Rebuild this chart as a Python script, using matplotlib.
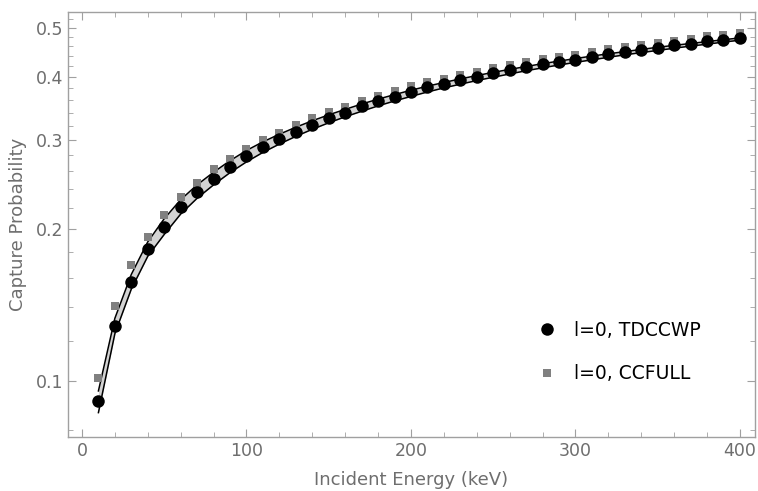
import numpy as np
import matplotlib.pyplot as plt
from matplotlib.ticker import FixedLocator, NullFormatter, FormatStrFormatter

# Energia incidente (keV)
energy = [10, 20, 30, 40, 50, 60, 70, 80, 90, 100,
          110, 120, 130, 140, 150, 160, 170, 180, 190, 200,
          210, 220, 230, 240, 250, 260, 270, 280, 290, 300,
          310, 320, 330, 340, 350, 360, 370, 380, 390, 400]

# l=0, TDCCWP (cerchi neri)
tdccwp = [0.0913, 0.1283, 0.1568, 0.1822, 0.2018, 0.2211, 0.2370, 0.2515, 0.2658, 0.2790,
          0.2907, 0.3015, 0.3110, 0.3214, 0.3310, 0.3400, 0.3500, 0.3584, 0.3656, 0.3740,
          0.3816, 0.3873, 0.3945, 0.3992, 0.4067, 0.4130, 0.4180, 0.4245, 0.4280, 0.4320,
          0.4387, 0.4440, 0.4477, 0.4520, 0.4570, 0.4620, 0.4656, 0.4710, 0.4733, 0.4770]

# l=0, CCFULL (quadrati grigi)
ccfull = [0.1015, 0.1408, 0.1697, 0.1928, 0.2132, 0.2314, 0.2467, 0.2630, 0.2752, 0.2880,
          0.3000, 0.3098, 0.3210, 0.3310, 0.3405, 0.3495, 0.3590, 0.3672, 0.3745, 0.3830,
          0.3905, 0.3965, 0.4035, 0.4085, 0.4160, 0.4222, 0.4275, 0.4340, 0.4378, 0.4420,
          0.4485, 0.4540, 0.4578, 0.4622, 0.4672, 0.4722, 0.4762, 0.4815, 0.4845, 0.4885]

# banda (linee nere)
band_upper = [0.0955, 0.1330, 0.1625, 0.1885, 0.2095, 0.2285, 0.2445, 0.2590, 0.2730, 0.2860,
              0.2975, 0.3080, 0.3180, 0.3275, 0.3365, 0.3450, 0.3535, 0.3615, 0.3690, 0.3765,
              0.3835, 0.3900, 0.3965, 0.4025, 0.4085, 0.4140, 0.4195, 0.4250, 0.4300, 0.4350,
              0.4400, 0.4445, 0.4490, 0.4535, 0.4580, 0.4620, 0.4660, 0.4700, 0.4740, 0.4780]
band_lower = [0.0865, 0.1240, 0.1520, 0.1765, 0.1950, 0.2140, 0.2300, 0.2445, 0.2585, 0.2715,
              0.2835, 0.2945, 0.3050, 0.3150, 0.3245, 0.3335, 0.3420, 0.3505, 0.3585, 0.3660,
              0.3735, 0.3805, 0.3870, 0.3935, 0.3995, 0.4055, 0.4115, 0.4170, 0.4225, 0.4275,
              0.4325, 0.4375, 0.4425, 0.4470, 0.4515, 0.4560, 0.4605, 0.4645, 0.4690, 0.4730]

x_major = [0, 100, 200, 300, 400]
x_minor = list(range(0, 401, 20))
y_major = [0.1, 0.2, 0.3, 0.4, 0.5]
y_minor = [round(0.08 + 0.02 * i, 2) for i in range(23)]

frame_col = '#a0a0a0'
text_col = '#6e6e6e'

fig = plt.figure(figsize=(7.58, 4.91), dpi=100)
ax = fig.add_axes([0.0897, 0.110, 0.906, 0.8656])

ax.fill_between(energy, band_lower, band_upper, color='#d3d3d3', lw=0, zorder=1)
ax.plot(energy, band_upper, color='black', lw=1.1, zorder=2)
ax.plot(energy, band_lower, color='black', lw=1.1, zorder=2)
ax.plot(energy, ccfull, 's', color='#808080', ms=6, mew=0, zorder=3, label='l=0, CCFULL')
ax.plot(energy, tdccwp, 'o', color='black', ms=9, mew=0, zorder=4, label='l=0, TDCCWP')

ax.set_yscale('log')
ax.set_xlim(-8.5, 409)
ax.set_ylim(0.0774, 0.538)

ax.xaxis.set_major_locator(FixedLocator(x_major))
ax.xaxis.set_minor_locator(FixedLocator(x_minor))
ax.yaxis.set_major_locator(FixedLocator(y_major))
ax.yaxis.set_minor_locator(FixedLocator(y_minor))
ax.yaxis.set_major_formatter(FormatStrFormatter('%.1f'))
ax.yaxis.set_minor_formatter(NullFormatter())

ax.tick_params(which='both', direction='in', top=True, right=True,
               color=frame_col, labelcolor=text_col, labelsize=12.5)
ax.tick_params(which='major', length=6, width=0.8)
ax.tick_params(which='minor', length=3.5, width=0.6)
for s in ax.spines.values():
    s.set_color(frame_col)
    s.set_linewidth(1.0)

ax.set_xlabel('Incident Energy (keV)', color=text_col, fontsize=13, labelpad=8)
ax.set_ylabel('Capture Probability', color=text_col, fontsize=13, labelpad=6)

h, l = ax.get_legend_handles_labels()
ax.legend(h[::-1], l[::-1], loc='center left', bbox_to_anchor=(0.66, 0.2),
          frameon=False, fontsize=13.5, handlelength=1.0, handletextpad=0.9,
          labelspacing=1.3)

fig.savefig('out.png', dpi=100)
